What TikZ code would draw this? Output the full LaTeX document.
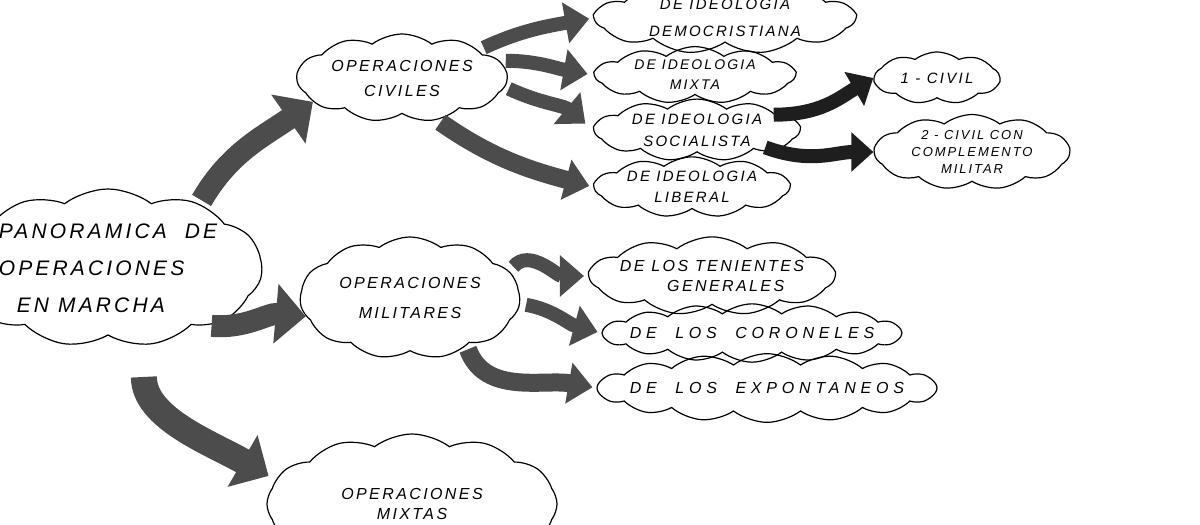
\documentclass[tikz,border=0pt]{standalone}
\usepackage{fontspec}
\setmainfont{Liberation Sans}
\newfontfamily\hand[LetterSpace=15]{Liberation Sans}
\newfontfamily\handw[LetterSpace=30]{Liberation Sans}
\usetikzlibrary{shapes.symbols,arrows.meta}
\definecolor{pencil}{HTML}{4C4C4C}
\definecolor{ink}{HTML}{1E1E1E}
\begin{document}
\begin{tikzpicture}[x=1pt,y=-1pt,
  bub/.style={cloud, cloud puffs=11, cloud puff arc=75, cloud ignores aspect,
    draw=black, line width=1.2pt, inner sep=0pt, align=center},
  bigarrow/.style={draw=pencil, line width=22pt, -{Triangle[length=30pt,width=58pt]}},
  midarrow/.style={draw=pencil, line width=14pt, -{Triangle[length=24pt,width=40pt]}},
  inkarrow/.style={draw=ink, line width=14pt, -{Triangle[length=22pt,width=38pt]}}]
\clip (0,0) rectangle (1200,525);
\fill[white] (0,0) rectangle (1200,525);

% main clouds
\node[bub, minimum width=265pt, minimum height=158pt, align=left,
  font=\hand\itshape\fontsize{21}{37}\selectfont] (main) at (108,268)
  {PANORAMICA\ \ DE\\OPERACIONES\\\ \ EN\ MARCHA};
\node[bub, minimum width=210pt, minimum height=88pt,
  font=\hand\itshape\fontsize{16}{25}\selectfont] (civ) at (402,78)
  {OPERACIONES\\CIVILES};
\node[bub, minimum width=220pt, minimum height=122pt,
  font=\hand\itshape\fontsize{16}{30}\selectfont] (mil) at (410,298)
  {OPERACIONES\\MILITARES};
\node[bub, cloud puffs=12, minimum width=290pt, minimum height=140pt,
  font=\hand\itshape\fontsize{16}{20}\selectfont] (mix) at (412,504)
  {OPERACIONES\\MIXTAS};

% civil branches
\node[bub, minimum width=260pt, minimum height=55pt,
  font=\hand\itshape\fontsize{15}{27}\selectfont] (demo) at (725,18)
  {DE IDEOLOGIA\\DEMOCRISTIANA};
\node[bub, minimum width=200pt, minimum height=50pt,
  font=\hand\itshape\fontsize{14}{20}\selectfont] (mixta) at (695,75)
  {DE IDEOLOGIA\\MIXTA};
\node[bub, minimum width=205pt, minimum height=58pt,
  font=\hand\itshape\fontsize{15}{22}\selectfont] (soc) at (697,130)
  {DE IDEOLOGIA\\SOCIALISTA};
\node[bub, minimum width=195pt, minimum height=57pt,
  font=\hand\itshape\fontsize{15}{21}\selectfont] (lib) at (692,187)
  {DE IDEOLOGIA\\LIBERAL};
\node[bub, cloud puffs=9, minimum width=125pt, minimum height=52pt,
  font=\hand\itshape\fontsize{15}{20}\selectfont] (civil1) at (937,78)
  {1 - CIVIL};
\node[bub, minimum width=195pt, minimum height=75pt,
  font=\hand\itshape\fontsize{13}{17}\selectfont] (civil2) at (972,152)
  {2 - CIVIL CON\\COMPLEMENTO\\MILITAR};

% military branches
\node[bub, minimum width=245pt, minimum height=60pt, inner xsep=-10pt, inner ysep=5pt,
  font=\hand\itshape\fontsize{16}{20}\selectfont] (ten) at (712,276)
  {DE LOS TENIENTES\\\ \ \ \ GENERALES};
\node[bub, cloud puffs=16, minimum width=300pt, minimum height=48pt,
  inner xsep=-28pt, inner ysep=9pt,
  font=\handw\itshape\fontsize{16}{20}\selectfont] (cor) at (752,333)
  {DE\ \ LOS\ \ CORONELES};
\node[bub, cloud puffs=16, minimum width=340pt, minimum height=58pt,
  inner xsep=-32pt, inner ysep=12pt,
  font=\handw\itshape\fontsize{16}{20}\selectfont] (exp) at (767,388)
  {DE\ \ LOS\ \ EXPONTANEOS};

% arrows from main
\draw[bigarrow, shorten <=4pt] (main.35) to[out=60,in=215] (civ.195);
\draw[bigarrow, shorten <=4pt] (main.-30) to[out=-5,in=175] (mil.190);
\draw[bigarrow, line width=26pt, shorten <=32pt, shorten >=8pt] (main.-65) to[out=-90,in=150] (mix.170);

% arrows from civiles
\draw[midarrow, shorten <=6pt, shorten >=4pt] (civ.20) to[out=25,in=190] (demo.west);
\draw[midarrow, shorten <=6pt, shorten >=6pt] (civ.10) to[out=0,in=170] (mixta.west);
\draw[midarrow, shorten <=4pt, shorten >=10pt] (civ.-5) to[out=-25,in=140] (soc.west);
\draw[midarrow, line width=18pt, shorten <=4pt, shorten >=4pt] (civ.-50) to[out=-35,in=165] (lib.west);

% arrows from socialista
\draw[inkarrow, shorten <=-10pt] (soc.10) to[out=0,in=210] (civil1.west);
\draw[inkarrow, shorten <=-10pt] (soc.-15) to[out=-20,in=180] (civil2.west);

% arrows from militares
\draw[midarrow, shorten <=6pt, shorten >=4pt] (mil.15) to[out=50,in=180] (ten.west);
\draw[midarrow, shorten <=6pt, shorten >=4pt] (mil.-3) to[out=-10,in=165] (cor.west);
\draw[midarrow, line width=18pt, shorten <=4pt, shorten >=4pt] (mil.-40) to[out=-70,in=170] (exp.west);
\end{tikzpicture}
\end{document}
